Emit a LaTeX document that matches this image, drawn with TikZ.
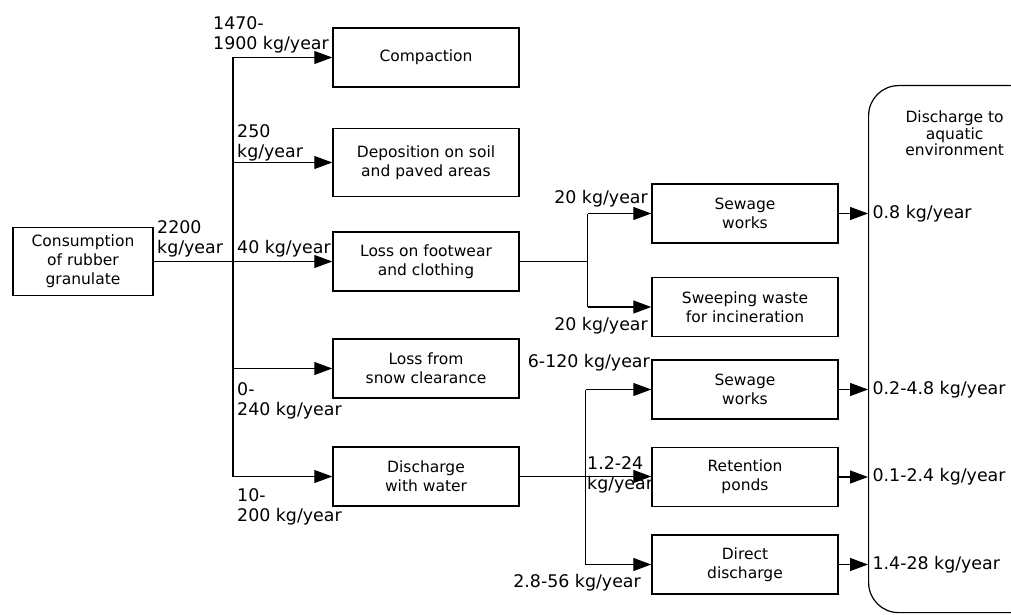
\documentclass[tikz,border=0pt]{standalone}
\usepackage{fontspec}
\setmainfont{DejaVu Sans}
\usetikzlibrary{arrows.meta,positioning}

\begin{document}
\begin{tikzpicture}[
    x=1pt, y=-1pt,
    box/.style={draw, line width=1.5pt, minimum width=186pt, minimum height=59pt, align=center, inner sep=2pt, font=\fontsize{15.5}{19}\selectfont},
    link/.style={line width=1.2pt},
    flow/.style={link, -{Triangle[length=18pt,width=13pt]}},
    rate/.style={align=left, inner sep=0pt, font=\fontsize{17.4}{20}\selectfont},
    sink/.style={draw, line width=1.2pt, rounded corners=30pt, minimum width=172pt, minimum height=527pt, anchor=north west}
]
\useasboundingbox (0,0) rectangle (1011,615);

% Source
\node[box, minimum width=140pt, minimum height=68pt] (consumption) at (83,261.5) {Consumption\\of rubber\\granulate};

% First split
\node[box] (compaction) at (426,57.5) {Compaction};
\node[box, below=40pt of compaction, minimum height=68pt] (deposition) {Deposition on soil\\and paved areas};
\node[box, below=34pt of deposition] (footwear) {Loss on footwear\\and clothing};
\node[box, below=46.5pt of footwear] (snow) {Loss from\\snow clearance};
\node[box, below=47.5pt of snow] (water) {Discharge\\with water};

% Second split
\node[box] (sewageA) at (745,213.5) {Sewage\\works};
\node[box, below=33pt of sewageA] (sweeping) {Sweeping waste\\for incineration};
\node[box, below=22pt of sweeping] (sewageB) {Sewage\\works};
\node[box, below=27pt of sewageB] (ponds) {Retention\\ponds};
\node[box, below=27pt of ponds] (direct) {Direct\\discharge};

% Receiving environment
\node[sink] (aquatic) at (868,85) {};
\node[align=center, inner sep=0pt, font=\fontsize{15.5}{16.5}\selectfont, below=26pt of aquatic.north] (aquatictext) {Discharge to\\aquatic\\environment};

% Trunk from the source
\coordinate (split) at (233,261.5);
\draw[flow] (consumption.east) -- (consumption.east -| footwear.west);
\draw[link] (split |- compaction.west) -- (split |- water.west);
\foreach \target in {compaction, deposition, snow, water}
    \draw[flow] (split |- \target.west) -- (\target.west);

% Footwear fork
\coordinate (forkA) at ([xshift=68pt]footwear.east);
\draw[link] (footwear.east) -- (forkA);
\draw[link] (forkA |- sewageA.west) -- (forkA |- sweeping.west);
\draw[flow] (forkA |- sewageA.west) -- (sewageA.west);
\draw[flow] (forkA |- sweeping.west) -- (sweeping.west);

% Water fork
\coordinate (forkB) at ([xshift=66pt]water.east);
\draw[link] (forkB |- sewageB.west) -- (forkB |- direct.west);
\draw[flow] (water.east) -- (water.east -| ponds.west);
\draw[flow] (forkB |- sewageB.west) -- (sewageB.west);
\draw[flow] (forkB |- direct.west) -- (direct.west);

% Outflows
\draw[flow] (sewageA.east) -- (sewageA.east -| aquatic.west) node[rate, right=4pt] (outA) {0.8 kg/year};
\draw[flow] (sewageB.east) -- (sewageB.east -| aquatic.west) node[rate, right=4pt] (outB) {0.2-4.8 kg/year};
\draw[flow] (ponds.east) -- (ponds.east -| aquatic.west) node[rate, right=4pt] (outC) {0.1-2.4 kg/year};
\draw[flow] (direct.east) -- (direct.east -| aquatic.west) node[rate, right=4pt] (outD) {1.4-28 kg/year};

% Flow rates
\node[rate, anchor=south west] (rateTotal) at (157,257) {2200\\kg/year};
\node[rate, anchor=south west] (rateCompaction) at (213,53) {1470-\\1900 kg/year};
\node[rate, anchor=south west] (rateDeposition) at (237,161) {250\\kg/year};
\node[rate, anchor=south west] (rateFootwear) at (237,257) {40 kg/year};
\node[rate, anchor=north west] (rateSnow) at (237,382) {0-\\240 kg/year};
\node[rate, anchor=north west] (rateWater) at (237,488) {10-\\200 kg/year};
\node[rate, anchor=south east] (rateSewageA) at (648,207) {20 kg/year};
\node[rate, anchor=south east] (rateSweeping) at (648,334) {20 kg/year};
\node[rate, anchor=south east] (rateSewageB) at (650,371) {6-120 kg/year};
\node[rate, anchor=south west] (ratePonds) at (587,493) {1.2-24\\kg/year};
\node[rate, anchor=south east] (rateDirect) at (641,591) {2.8-56 kg/year};

\end{tikzpicture}
\end{document}
